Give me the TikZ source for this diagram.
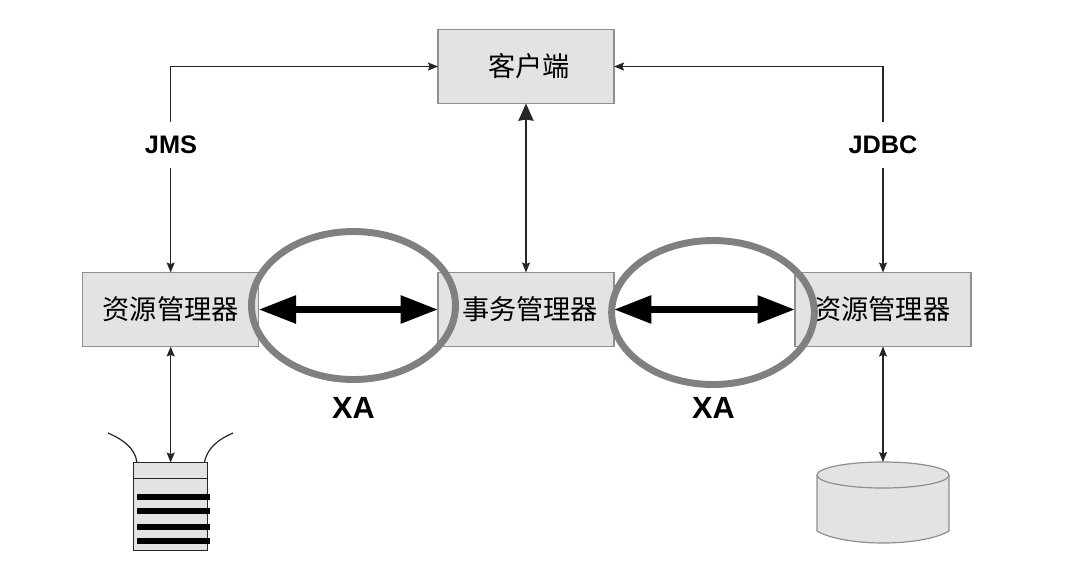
\documentclass[tikz,border=0pt]{standalone}
\usepackage{fontspec}
\setmainfont{Liberation Sans}
\newfontfamily\cjk{Noto Sans CJK SC}
\usetikzlibrary{shapes,arrows.meta,positioning}

\definecolor{boxfill}{HTML}{E3E3E3}
\definecolor{boxline}{HTML}{8F8F8F}
\definecolor{ringline}{HTML}{808080}

\tikzset{
  box/.style={rectangle, draw=boxline, fill=boxfill, line width=0.9pt, minimum width=132pt, minimum height=55.5pt, inner sep=0pt, outer sep=0pt, font=\cjk\fontsize{20.4}{24}\selectfont},
  thinline/.style={draw=black!85, line width=0.85pt, {Stealth[length=7.5pt,width=6pt,inset=1.2pt]}-{Stealth[length=7.5pt,width=6pt,inset=1.2pt]}},
  bigtipline/.style={draw=black!85, line width=0.85pt, {Stealth[length=13pt,width=11.5pt,inset=1pt]}-{Stealth[length=7.5pt,width=6pt,inset=1.2pt]}},
  xaline/.style={draw=black, line width=5pt, {Triangle[length=28pt,width=20pt]}-{Triangle[length=28pt,width=20pt]}},
  ring/.style={ellipse, draw=ringline, line width=5.2pt, inner sep=0pt, outer sep=0pt},
  protolabel/.style={fill=white, font=\bfseries\fontsize{19}{21}\selectfont, inner sep=1pt, minimum height=34pt},
  xalabel/.style={font=\bfseries\fontsize{23}{26}\selectfont, inner sep=0pt},
}

\begin{document}
\begin{tikzpicture}[x=0.75pt, y=-0.75pt]
  \useasboundingbox (0,0) rectangle (1086,587);

  \node[box] (client) at (526,66.5) {\hspace{5pt}客户端};
  \node[box, below=126.75pt of client] (tm) {\hspace{6pt}事务管理器};
  \node[box, left=134.5pt of tm] (rmleft) {资源管理器};
  \node[box, right=135.75pt of tm] (rmright) {\hspace{-1pt}资源管理器};

  % queue
  \node[rectangle, draw=black!85, fill=boxfill, line width=0.9pt, minimum width=55.5pt, minimum height=66pt, inner sep=0pt, outer sep=0pt, below=87pt of rmleft] (queue) {};
  \draw[black!85, line width=0.9pt] ([yshift=-12pt]queue.north west) -- ([yshift=-12pt]queue.north east);
  \foreach \y in {497,511,527,541}
    \draw[black, line width=5.2pt] (137,\y) -- (210,\y);
  \draw[black!85, line width=0.9pt] ([xshift=2.5pt]queue.north west) .. controls +(-2,-15) and (122,439) .. (108,433);
  \draw[black!85, line width=0.9pt] ([xshift=-2.5pt]queue.north east) .. controls +(3,-15) and (219,439) .. (233,433);

  % database
  \coordinate (store) at (883,462);
  \draw[draw=boxline, fill=boxfill, line width=0.9pt] (817,475) -- (817,531) .. controls (830,539) and (858,543) .. (883,543) .. controls (908,543) and (936,539) .. (949,531) -- (949,475);
  \draw[draw=boxline, fill=boxfill, line width=0.9pt] (883,475) ellipse (66 and 13);

  \draw[thinline] (client.west) -| (rmleft.north);
  \draw[thinline] (client.east) -| (rmright.north);
  \draw[bigtipline] (client.south) -- (tm.north);
  \draw[thinline] (rmleft.south) -- (queue.north -| rmleft.south);
  \draw[thinline] (rmright.south) -- (store);

  \node[protolabel] (jms) at (171,145) {JMS};
  \node[protolabel] (jdbc) at (883,145) {JDBC};

  \draw[xaline] (rmleft.east) -- (tm.west);
  \draw[xaline] (tm.east) -- (rmright.west);

  \node[ring, minimum width=153pt, minimum height=111pt] (ringleft) at (353.5,305.5) {};
  \node[ring, minimum width=152pt, minimum height=108pt] (ringright) at (713,312.5) {};

  \node[xalabel] (xaleft) at (353.5,408) {XA};
  \node[xalabel] (xaright) at (713.5,408) {XA};

\end{tikzpicture}
\end{document}
